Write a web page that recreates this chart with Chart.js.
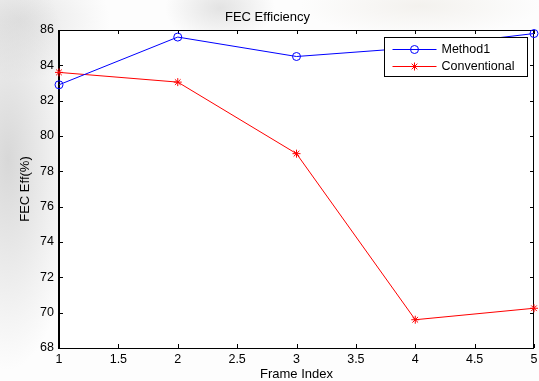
<!DOCTYPE html>
<html>
<head>
<meta charset="utf-8">
<script src="https://cdn.jsdelivr.net/npm/chart.js@4/dist/chart.umd.min.js"></script>
<style>
  html, body { margin: 0; padding: 0; }
  body {
    width: 539px; height: 381px; overflow: hidden;
    background:
      radial-gradient(ellipse 70px 210px at 8px 160px, rgba(185,185,185,0.55), rgba(255,255,255,0)),
      radial-gradient(ellipse 90px 60px at 20px 20px, rgba(200,200,200,0.45), rgba(255,255,255,0)),
      radial-gradient(ellipse 55px 35px at 220px 8px, rgba(195,195,195,0.45), rgba(255,255,255,0)),
      radial-gradient(ellipse 120px 30px at 420px 6px, rgba(225,220,210,0.35), rgba(255,255,255,0)),
      #fdfdfd;
  }
  canvas { display: block; }
</style>
</head>
<body>
<canvas id="c" width="539" height="381"></canvas>
<script>
// Frame indices on the x axis
const frameIndex = [1, 2, 3, 4, 5];
// FEC efficiency (%) for each method
const method1 = [82.9, 85.6, 84.5, 85.0, 85.8];
const conventional = [83.6, 83.05, 79.0, 69.6, 70.25];
// Axis ranges and tick steps
const xRange = [1, 5];
const xStep = 0.5;
const yRange = [68, 86];
const yStep = 2;

const FONT = 'Liberation Sans, Arial, Helvetica, sans-serif';
const TICK_SIZE = 12.5;
const LABEL_SIZE = 13;

const toPoints = ys => frameIndex.map((x, i) => ({ x, y: ys[i] }));
const plainNumber = v => String(Number(v.toFixed(2)));

function drawMarker(ctx, style, x, y, r, color) {
  ctx.save();
  ctx.strokeStyle = color;
  ctx.lineWidth = 1;
  ctx.beginPath();
  if (style === 'circle') {
    ctx.arc(x, y, r, 0, Math.PI * 2);
  } else {
    const d = r * Math.SQRT1_2;
    ctx.moveTo(x - r, y); ctx.lineTo(x + r, y);
    ctx.moveTo(x, y - r); ctx.lineTo(x, y + r);
    ctx.moveTo(x - d, y - d); ctx.lineTo(x + d, y + d);
    ctx.moveTo(x - d, y + d); ctx.lineTo(x + d, y - d);
  }
  ctx.stroke();
  ctx.restore();
}

// Axes box with inward tick marks on all four sides, plus a boxed legend
const boxedAxes = {
  id: 'boxedAxes',
  beforeDraw(chart) {
    const { ctx, chartArea: a } = chart;
    ctx.save();
    ctx.fillStyle = '#ffffff';
    ctx.fillRect(a.left, a.top, a.right - a.left, a.bottom - a.top);
    ctx.restore();
  },
  beforeDatasetsDraw(chart) {
    const { ctx, chartArea: a, scales } = chart;
    const tl = 4;
    ctx.save();
    ctx.strokeStyle = '#000';
    ctx.lineWidth = 1;
    ctx.beginPath();
    scales.x.ticks.forEach(t => {
      const px = Math.round(scales.x.getPixelForValue(t.value)) + 0.5;
      ctx.moveTo(px, a.bottom); ctx.lineTo(px, a.bottom - tl);
      ctx.moveTo(px, a.top); ctx.lineTo(px, a.top + tl);
    });
    scales.y.ticks.forEach(t => {
      const py = Math.round(scales.y.getPixelForValue(t.value)) + 0.5;
      ctx.moveTo(a.left, py); ctx.lineTo(a.left + tl, py);
      ctx.moveTo(a.right, py); ctx.lineTo(a.right - tl, py);
    });
    ctx.stroke();
    ctx.strokeRect(Math.round(a.left) + 0.5, Math.round(a.top) + 0.5,
                   Math.round(a.right - a.left) - 1, Math.round(a.bottom - a.top));
    ctx.lineWidth = 2;
    ctx.beginPath();
    ctx.moveTo(Math.round(a.left), a.top); ctx.lineTo(Math.round(a.left), a.bottom + 1);
    ctx.stroke();
    ctx.restore();
  },
  afterDatasetsDraw(chart) {
    const { ctx, chartArea: a } = chart;
    const w = 143, h = 39;
    const left = Math.round(a.right - 7 - w) + 0.5;
    const top = Math.round(a.top + 7) + 0.5;
    ctx.save();
    ctx.fillStyle = '#fff';
    ctx.fillRect(left, top, w, h);
    ctx.strokeStyle = '#000';
    ctx.lineWidth = 1;
    ctx.strokeRect(left, top, w, h);
    ctx.font = '12.5px ' + FONT;
    ctx.textBaseline = 'middle';
    ctx.textAlign = 'left';
    chart.data.datasets.forEach((ds, i) => {
      const y = Math.round(top + 11 + i * 17.5) + 0.5;
      const x0 = left + 8, x1 = left + 52;
      ctx.strokeStyle = ds.borderColor;
      ctx.lineWidth = 1;
      ctx.beginPath();
      ctx.moveTo(x0, y); ctx.lineTo(x1, y);
      ctx.stroke();
      drawMarker(ctx, ds.pointStyle, (x0 + x1) / 2, y, ds.pointRadius, ds.borderColor);
      ctx.fillStyle = '#000';
      ctx.fillText(ds.label, left + 57, y);
    });
    ctx.restore();
  }
};

new Chart(document.getElementById('c'), {
  type: 'line',
  data: {
    datasets: [
      {
        label: 'Method1',
        data: toPoints(method1),
        borderColor: '#0000ff',
        backgroundColor: 'rgba(0,0,0,0)',
        borderWidth: 1,
        pointStyle: 'circle',
        pointRadius: 4,
        pointBorderWidth: 1,
        pointBorderColor: '#0000ff',
        pointBackgroundColor: 'rgba(0,0,0,0)',
        tension: 0,
        clip: false
      },
      {
        label: 'Conventional',
        data: toPoints(conventional),
        borderColor: '#ff0000',
        backgroundColor: 'rgba(0,0,0,0)',
        borderWidth: 1,
        pointStyle: 'star',
        pointRadius: 4,
        pointBorderWidth: 1,
        pointBorderColor: '#ff0000',
        pointBackgroundColor: '#ff0000',
        tension: 0,
        clip: false
      }
    ]
  },
  options: {
    responsive: false,
    animation: false,
    devicePixelRatio: 1,
    layout: { padding: { left: 0, right: 4, top: 0, bottom: 0 } },
    plugins: {
      legend: { display: false },
      tooltip: { enabled: false },
      title: {
        display: true,
        text: 'FEC Efficiency',
        color: '#000',
        font: { family: FONT, size: LABEL_SIZE, weight: 'normal', lineHeight: '14px' },
        padding: { top: 10, bottom: 6 }
      }
    },
    scales: {
      x: {
        type: 'linear',
        position: 'bottom',
        min: xRange[0],
        max: xRange[1],
        afterFit: s => { s.height = 33; s.paddingLeft = 0; s.paddingRight = 0; },
        grid: { display: false, drawTicks: false },
        border: { display: false },
        ticks: {
          stepSize: xStep,
          autoSkip: false,
          maxRotation: 0,
          padding: 4,
          color: '#000',
          font: { family: FONT, size: TICK_SIZE },
          callback: plainNumber
        },
        title: {
          display: true,
          text: 'Frame Index',
          color: '#000',
          font: { family: FONT, size: LABEL_SIZE, lineHeight: '14px' },
          padding: { top: 0, bottom: 0 }
        }
      },
      y: {
        min: yRange[0],
        max: yRange[1],
        afterFit: s => { s.width = 59; s.paddingTop = 0; s.paddingBottom = 0; },
        grid: { display: false, drawTicks: false },
        border: { display: false },
        ticks: {
          stepSize: yStep,
          autoSkip: false,
          padding: 5,
          color: '#000',
          font: { family: FONT, size: TICK_SIZE },
          callback: plainNumber
        },
        title: {
          display: true,
          text: 'FEC Eff(%)',
          color: '#000',
          font: { family: FONT, size: LABEL_SIZE, lineHeight: '14px' },
          padding: { top: 18, bottom: 0 }
        }
      }
    }
  },
  plugins: [boxedAxes]
});
</script>
</body>
</html>
